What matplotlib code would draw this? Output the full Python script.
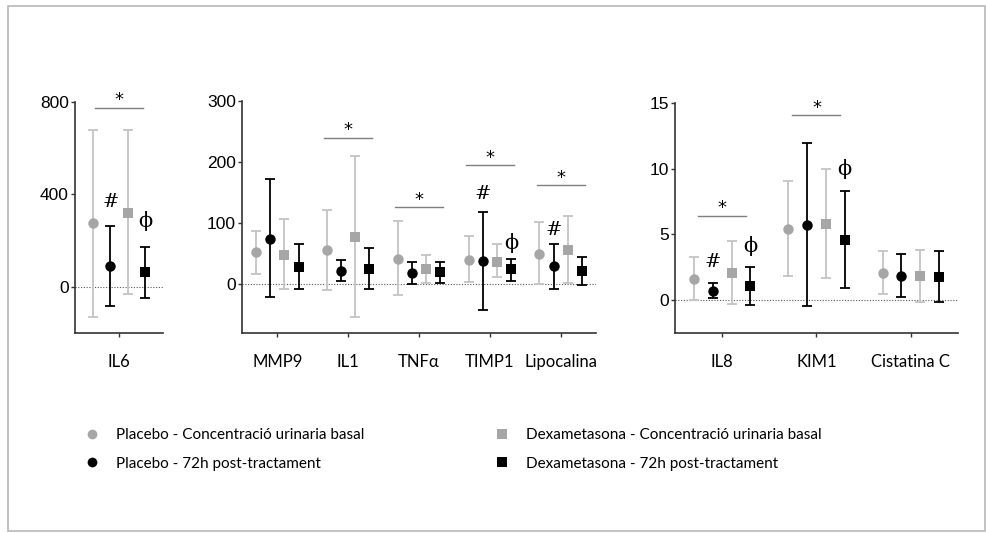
import matplotlib
matplotlib.use('Agg')
import matplotlib.pyplot as plt
from matplotlib.lines import Line2D
from matplotlib.patches import Rectangle

# categories, split over three panels
categories = ['IL6', 'MMP9', 'IL1', 'TNFα', 'TIMP1', 'Lipocalina', 'IL8', 'KIM1', 'Cistatina C']
panel_slices = [(0, 1), (1, 6), (6, 9)]
panel_ylims = [(-200, 800), (-80, 300), (-2.5, 15)]
panel_yticks = [[0, 400, 800], [0, 100, 200, 300], [0, 5, 10, 15]]

# series: mean, lower and upper end of the error bar
pb_basal_mean = [275, 52, 56, 42, 40, 50, 1.62, 5.43, 2.07]
pb_basal_lo = [-130, 16, -10, -18, 3, 0, 0.0, 1.85, 0.43]
pb_basal_hi = [680, 87, 122, 103, 79, 101, 3.3, 9.05, 3.77]

pb_72h_mean = [92, 74, 22, 18, 37.6, 29, 0.73, 5.73, 1.87]
pb_72h_lo = [-82, -21, 4.4, 0, -43, -8, 0.13, -0.45, 0.26]
pb_72h_hi = [265, 172, 39, 35.5, 118, 66, 1.3, 11.95, 3.54]

dx_basal_mean = [320, 47.5, 78, 25, 37, 56.7, 2.07, 5.8, 1.82]
dx_basal_lo = [-32, -7.6, -54, 2.7, 11, 1.6, -0.33, 1.67, -0.12]
dx_basal_hi = [680, 106, 210, 47, 65.5, 112, 4.5, 10.0, 3.82]

dx_72h_mean = [62, 27.8, 25.6, 20, 24.5, 21.8, 1.06, 4.6, 1.75]
dx_72h_lo = [-48, -7.6, -8.7, 2.7, 5.5, -1, -0.4, 0.94, -0.15]
dx_72h_hi = [173, 65, 60, 36, 41.5, 44.7, 2.53, 8.33, 3.72]

series_labels = ['Placebo - Concentració urinaria basal',
                 'Placebo - 72h post-tractament',
                 'Dexametasona - Concentració urinaria basal',
                 'Dexametasona - 72h post-tractament']

# significance marks
star_cats = ['IL6', 'IL1', 'TNFα', 'TIMP1', 'Lipocalina', 'IL8', 'KIM1']
star_y = [776, 239.5, 126, 194.8, 162, 6.4, 14.07]
hash_cats = ['IL6', 'TIMP1', 'Lipocalina', 'IL8']
hash_y = [365, 148.4, 88.4, 2.9]
phi_cats = ['IL6', 'TIMP1', 'IL8', 'KIM1']
phi_y = [287, 67.6, 4.1, 10.0]

LIGHT = '#a6a6a6'
LIGHT_ERR = '#c4c4c4'
DARK = '#000000'
AXC = '#333333'

series = [
    (pb_basal_mean, pb_basal_lo, pb_basal_hi, 'o', LIGHT, LIGHT_ERR, -0.3),
    (pb_72h_mean, pb_72h_lo, pb_72h_hi, 'o', DARK, DARK, -0.1),
    (dx_basal_mean, dx_basal_lo, dx_basal_hi, 's', LIGHT, LIGHT_ERR, 0.1),
    (dx_72h_mean, dx_72h_lo, dx_72h_hi, 's', DARK, DARK, 0.3),
]

W, H = 986, 533
fig = plt.figure(figsize=(W / 100, H / 100), dpi=100)

# axes boxes in pixels: left, right, top, bottom
boxes = [(75, 163, 102, 333), (242, 596, 101, 333), (675, 958, 103, 333)]
label_font = ['Lato', 'DejaVu Sans']

fig.patches.append(Rectangle((8 / W, 1 - 531 / H), (985 - 8) / W, (531 - 6) / H,
                             transform=fig.transFigure, fill=False,
                             edgecolor='#b8b8b8', lw=1.2))

for p, (s0, s1) in enumerate(panel_slices):
    l, r, t, b = boxes[p]
    ax = fig.add_axes([l / W, 1 - b / H, (r - l) / W, (b - t) / H])
    cats = categories[s0:s1]
    n = len(cats)
    ax.set_xlim(-0.5, n - 0.5)
    ax.set_ylim(*panel_ylims[p])
    ax.axhline(0, color='#555555', ls=(0, (1, 1.5)), lw=0.8, zorder=1)

    for mean, lo, hi, mk, col, ecol, off in series:
        xs = [i + off for i in range(n)]
        m = mean[s0:s1]
        yerr = [[m[i] - lo[s0 + i] for i in range(n)],
                [hi[s0 + i] - m[i] for i in range(n)]]
        pts, caps, bars = ax.errorbar(xs, m, yerr=yerr, fmt='none', ecolor=ecol,
                                      elinewidth=1.3, capsize=3.5, capthick=1.3,
                                      zorder=2)
        ax.plot(xs, m, ls='none', marker=mk, color=col, ms=7.5, mew=0, zorder=3)

    # significance bars with stars
    px_per_unit = (r - l) / n
    half = 24 / px_per_unit
    for c, y in zip(star_cats, star_y):
        if c in cats:
            i = cats.index(c)
            ax.plot([i - half, i + half], [y, y], color='#7f7f7f', lw=1.0)
            ax.annotate('*', (i, y), xytext=(0, -1), textcoords='offset points',
                        ha='center', va='bottom', fontsize=13, family='DejaVu Sans')
    for c, y in zip(hash_cats, hash_y):
        if c in cats:
            i = cats.index(c)
            ax.text(i - 0.1, y, '#', ha='center', va='center', fontsize=14,
                    family='DejaVu Serif')
    for c, y in zip(phi_cats, phi_y):
        if c in cats:
            i = cats.index(c)
            ax.text(i + 0.3, y, 'ϕ', ha='center', va='center', fontsize=15,
                    family='DejaVu Serif')

    ax.set_xticks(range(n))
    ax.set_xticklabels(cats, family=label_font, fontsize=12)
    ax.set_yticks(panel_yticks[p])
    ax.tick_params(axis='x', length=3, width=1, color=AXC, pad=12)
    ax.tick_params(axis='y', length=3, width=1, color=AXC, pad=1.5,
                   labelsize=12.5)
    for lab in ax.get_yticklabels():
        lab.set_family('Liberation Sans')
    for side in ['top', 'right']:
        ax.spines[side].set_visible(False)
    for side in ['left', 'bottom']:
        ax.spines[side].set_color(AXC)
        ax.spines[side].set_linewidth(1.2)

handles = [Line2D([], [], ls='none', marker=s[3], color=s[4], ms=7, mew=0)
           for s in series]
leg_kw = dict(frameon=False, handlelength=0.6, handletextpad=1.3,
              labelspacing=0.95, borderpad=0, borderaxespad=0,
              prop={'family': label_font, 'size': 11})
fig.legend(handles[:2], series_labels[:2], loc='upper left',
           bbox_to_anchor=(87 / W, 1 - 428 / H), **leg_kw)
fig.legend(handles[2:], series_labels[2:], loc='upper left',
           bbox_to_anchor=(497 / W, 1 - 428 / H), **leg_kw)

fig.savefig('out.png', dpi=100, facecolor='white')
